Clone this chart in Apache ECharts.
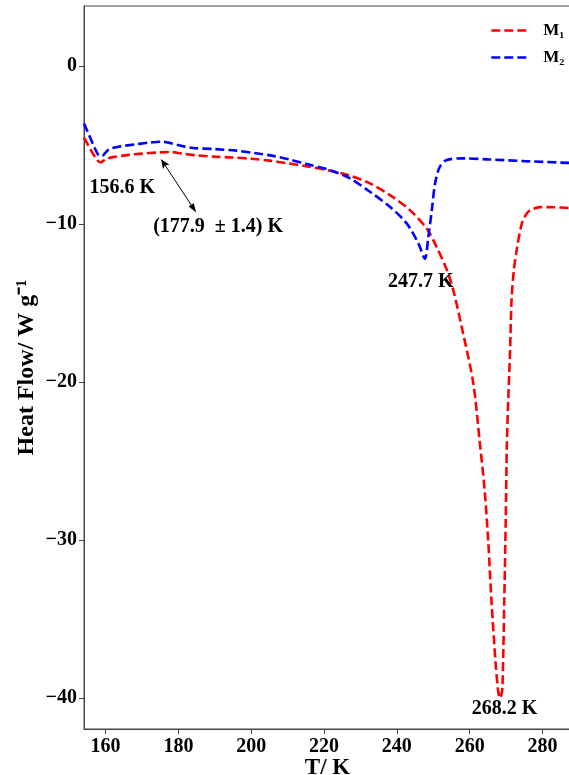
<!DOCTYPE html>
<html><head><meta charset="utf-8">
<script src="https://cdn.jsdelivr.net/npm/echarts@6/dist/echarts.min.js"></script>
<style>html,body{margin:0;padding:0;background:#fff}#c{width:569px;height:775px}</style>
</head><body><div id="c"></div>
<script>
// ---- data ----
const M1_T = [154.07,156.0,157.5,158.6,160.0,162,166,170,174,177.5,181,185,190,195,200,205,210,215,221.6,227.1,232.6,238.1,243.6,248.2,250.9,253.7,255.5,258.2,261.0,262.8,264.1,265.1,266.0,267.1,267.8,268.3,268.7,269.0,269.5,269.9,270.2,270.6,271.1,271.5,272.1,272.9,274.3,275.5,276.6,279.3,283,287.8];
const M1_V = [-4.55,-5.35,-5.9,-6.12,-5.92,-5.78,-5.65,-5.56,-5.49,-5.45,-5.55,-5.67,-5.75,-5.8,-5.88,-6.0,-6.17,-6.35,-6.64,-6.95,-7.44,-8.18,-9.13,-10.3,-11.45,-12.9,-14.19,-16.93,-20.09,-23.88,-26.8,-30.1,-33.9,-37.7,-39.5,-40.0,-39.8,-39.3,-33.9,-28.8,-24.1,-21.1,-17.98,-14.82,-13.0,-11.66,-10.0,-9.4,-9.15,-8.94,-8.95,-9.0];
const M2_T = [154.07,155.5,157,158.4,159.2,160.9,164,168,172,175.5,178,181,184,190,196,200.8,206,210.7,215,221.6,227.1,232.6,238.1,242.7,245.9,247.7,248.6,249.6,250.5,251.8,253.7,258.2,265,275,287.8];
const M2_V = [-3.65,-4.4,-5.2,-5.7,-5.68,-5.28,-5.1,-4.98,-4.86,-4.8,-4.9,-5.08,-5.2,-5.27,-5.37,-5.52,-5.7,-5.94,-6.2,-6.6,-7.12,-7.97,-8.92,-9.97,-11.23,-12.2,-10.9,-9.13,-7.44,-6.39,-5.96,-5.86,-5.92,-6.03,-6.15];
const SERIES_NAMES = ['M\u2081','M\u2082'];
const X_TICKS = [160,180,200,220,240,260,280];
const Y_TICKS = [0,-10,-20,-30,-40];
const ANN_TEXT = ['156.6 K','(177.9  \u00b1 1.4) K','247.7 K','268.2 K'];
const ANN_T = [164.6,190.9,246.6,269.6];
const ANN_V = [-7.72,-10.2,-13.65,-40.7];
const ARROW_FROM = [184.2,-9.04];
const ARROW_TO = [175.3,-5.93];

const FONT = 'Liberation Serif';
const X_MIN = 154.07, X_MAX = 287.83, Y_MIN = -41.95, Y_MAX = 3.78;
const zip = (a,b)=>a.map((t,i)=>[t,b[i]]);

const chart = echarts.init(document.getElementById('c'), null, {renderer:'canvas'});
const lineStyleBase = {width:2.6, type:[9,4]};
chart.setOption({
  animation:false,
  backgroundColor:'#fff',
  grid:{left:84,right:-2,top:6,bottom:46,show:true,borderColor:'#444',borderWidth:1,backgroundColor:'transparent',
        outerBoundsMode:'none',containLabel:false},
  legend:{
    orient:'vertical', left:485, top:17, itemWidth:37, itemHeight:14, itemGap:10,
    itemStyle:{opacity:0},
    lineStyle:{width:2.6, type:[9,4]},
    textStyle:{fontFamily:FONT,fontWeight:'bold',fontSize:17,color:'#000',padding:[0,0,0,10]},
    data:SERIES_NAMES
  },
  xAxis:{
    type:'value', position:'bottom', min:X_MIN, max:X_MAX,
    name:'T/ K', nameLocation:'middle', nameGap:28, nameMoveOverlap:false,
    nameTextStyle:{fontFamily:FONT,fontWeight:'bold',fontSize:23,color:'#000'},
    axisLine:{show:true,onZero:false,lineStyle:{color:'#444',width:1}},
    axisTick:{show:true,customValues:X_TICKS,length:5,lineStyle:{color:'#444'}},
    axisLabel:{customValues:X_TICKS,fontFamily:FONT,fontWeight:'bold',fontSize:20,color:'#000',margin:8},
    splitLine:{show:false}
  },
  yAxis:{
    type:'value', min:Y_MIN, max:Y_MAX,
    name:'Heat Flow/ W g\u207b\u00b9', nameLocation:'middle', nameGap:45, nameMoveOverlap:false,
    nameTextStyle:{fontFamily:FONT,fontWeight:'bold',fontSize:24,color:'#000'},
    axisLine:{show:true,onZero:false,lineStyle:{color:'#444',width:1}},
    axisTick:{show:true,customValues:Y_TICKS,length:5,lineStyle:{color:'#444'}},
    axisLabel:{customValues:Y_TICKS,fontFamily:FONT,fontWeight:'bold',fontSize:20,color:'#000',margin:7,
      formatter:v=>String(v).replace('-','\u2212')},
    splitLine:{show:false}
  },
  series:[
    {name:SERIES_NAMES[0], type:'line', data:zip(M1_T,M1_V), showSymbol:false, symbol:'none',
     smooth:0.3, color:'#ff0000', lineStyle:Object.assign({color:'#ff0000'},lineStyleBase), clip:true,
     markLine:{silent:true, symbol:['triangle','arrow'], symbolSize:[6,9], label:{show:false},
       lineStyle:{color:'#000',width:1,type:'solid'},
       data:[[{coord:ARROW_FROM},{coord:ARROW_TO}]]},
     markPoint:{silent:true, symbol:'circle', symbolSize:0,
       label:{show:true,position:'inside',fontFamily:FONT,fontWeight:'bold',fontSize:20,color:'#000',
         formatter:p=>p.name},
       data:ANN_TEXT.map((t,i)=>({name:t,coord:[ANN_T[i],ANN_V[i]]}))}
    },
    {name:SERIES_NAMES[1], type:'line', data:zip(M2_T,M2_V), showSymbol:false, symbol:'none',
     smooth:0.3, color:'#0000ff', lineStyle:Object.assign({color:'#0000ff'},lineStyleBase), clip:true}
  ]
});
</script></body></html>
